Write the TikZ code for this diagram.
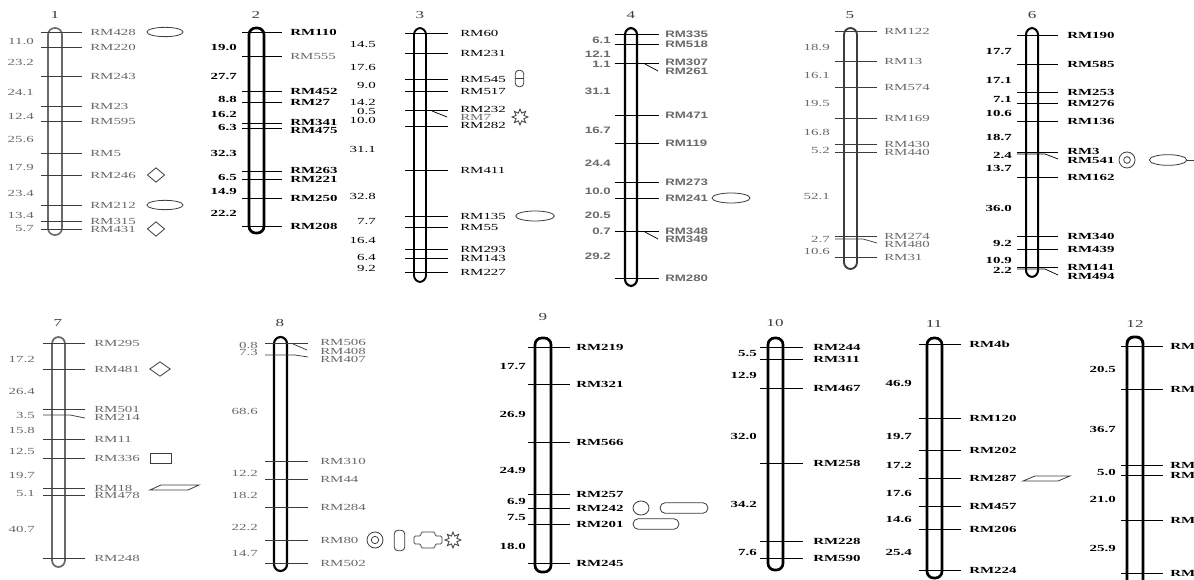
\documentclass[tikz,border=0pt]{standalone}
\usepackage{fontspec}
\setmainfont{Liberation Serif}[FakeStretch=1.6]
\newfontfamily\mapsans{Liberation Sans}[FakeStretch=1.42]
\usetikzlibrary{shapes.geometric}
\definecolor{gt}{RGB}{105,105,105}
\definecolor{dk}{RGB}{60,60,60}
\tikzset{
    rod/.style={draw=#1,line width=1.6pt,fill=white,rounded corners=5pt},
    tk/.style={draw=#1,line width=0.55pt},
    tk/.default=black,
    mk/.style={anchor=west,inner sep=0pt},
    dis/.style={anchor=east,inner sep=0pt},
    chr/.style={inner sep=0pt,font=\fontsize{8}{9}\selectfont,text=dk},
    sym/.style={draw=dk,line width=0.6pt,inner sep=0pt},
    grey/.style={text=gt},
    heavy/.style={font=\bfseries},
    sans/.style={font=\mapsans\bfseries,text=gt},
}
\begin{document}
\fontsize{7}{8}\selectfont
\begin{tikzpicture}[x=0.75pt,y=-0.75pt]
\useasboundingbox (0,0) rectangle (1194,580);
\clip (0,0) rectangle (1194,580);
\fill[white] (0,0) rectangle (1194,580);

% chromosome 1
\begin{scope}[grey]
\draw[rod=gt,line width=1.2pt] (48,28) rectangle (62,235);
\node[chr] (c1) at (55,15) {1};
\draw[tk=dk] (41,32) -- (82,32);   \node[mk] (rm428) at (90,32) {RM428};
\draw[tk=dk] (41,47) -- (82,47);   \node[mk] (rm220) at (90,47) {RM220};
\draw[tk=dk] (41,76) -- (82,76);   \node[mk] (rm243) at (90,76) {RM243};
\draw[tk=dk] (41,106) -- (82,106); \node[mk] (rm23) at (90,106) {RM23};
\draw[tk=dk] (41,121) -- (82,121); \node[mk] (rm595) at (90,121) {RM595};
\draw[tk=dk] (41,153) -- (82,153); \node[mk] (rm5) at (90,153) {RM5};
\draw[tk=dk] (41,175) -- (82,175); \node[mk] (rm246) at (90,175) {RM246};
\draw[tk=dk] (41,205) -- (82,205); \node[mk] (rm212) at (90,205) {RM212};
\draw[tk=dk] (41,221) -- (82,221); \node[mk] (rm315) at (90,221) {RM315};
\draw[tk=dk] (41,229) -- (82,229); \node[mk] (rm431) at (90,229) {RM431};
\node[dis] (d1a) at (34,41) {11.0};
\node[dis] (d1b) at (34,62) {23.2};
\node[dis] (d1c) at (34,92) {24.1};
\node[dis] (d1d) at (34,116) {12.4};
\node[dis] (d1e) at (34,139) {25.6};
\node[dis] (d1f) at (34,167) {17.9};
\node[dis] (d1g) at (34,193) {23.4};
\node[dis] (d1h) at (34,215) {13.4};
\node[dis] (d1i) at (34,229) {5.7};
\end{scope}
\node[sym,ellipse,minimum width=27pt,minimum height=7pt] (e1a) at (165,32) {};
\node[sym,diamond,minimum width=13pt,minimum height=11pt] (q1a) at (156,175) {};
\node[sym,ellipse,minimum width=27pt,minimum height=7pt] (e1b) at (165,205) {};
\node[sym,diamond,minimum width=13pt,minimum height=11pt] (q1b) at (156,229) {};

% chromosome 2
\begin{scope}[heavy]
\draw[rod=black,line width=2pt] (249,28) rectangle (264,233);
\node[chr] (c2) at (256,15) {2};
\draw[tk] (242,32) -- (282,32);   \node[mk] (rm110) at (290,32) {RM110};
\draw[tk] (242,56) -- (282,56);   \node[mk,text=gt,font=\mdseries] (rm555) at (290,56) {RM555};
\draw[tk] (242,91) -- (282,91);   \node[mk] (rm452) at (290,91) {RM452};
\draw[tk] (242,102) -- (282,102); \node[mk] (rm27) at (290,102) {RM27};
\draw[tk] (242,123) -- (282,123); \node[mk] (rm341) at (290,122) {RM341};
\draw[tk] (242,128) -- (282,128); \node[mk] (rm475) at (290,130) {RM475};
\draw[tk] (242,171) -- (282,171); \node[mk] (rm263) at (290,170) {RM263};
\draw[tk] (242,179) -- (282,179); \node[mk] (rm221) at (290,179) {RM221};
\draw[tk] (242,198) -- (282,198); \node[mk] (rm250) at (290,198) {RM250};
\draw[tk] (242,226) -- (282,226); \node[mk] (rm208) at (290,226) {RM208};
\node[dis] (d2a) at (237,47) {19.0};
\node[dis] (d2b) at (237,76) {27.7};
\node[dis] (d2c) at (237,99) {8.8};
\node[dis] (d2d) at (237,114) {16.2};
\node[dis] (d2e) at (237,127) {6.3};
\node[dis] (d2f) at (237,153) {32.3};
\node[dis] (d2g) at (237,177) {6.5};
\node[dis] (d2h) at (237,191) {14.9};
\node[dis] (d2i) at (237,213) {22.2};
\end{scope}

% chromosome 3
\draw[rod=black,line width=1.4pt] (414,28) rectangle (426,282);
\node[chr] (c3) at (420,15) {3};
\draw[tk] (405,33) -- (448,33);   \node[mk] (rm60) at (460,33) {RM60};
\draw[tk] (405,53) -- (448,53);   \node[mk] (rm231) at (460,53) {RM231};
\draw[tk] (405,79) -- (448,79);   \node[mk] (rm545) at (460,79) {RM545};
\draw[tk] (405,91) -- (448,91);   \node[mk] (rm517) at (460,91) {RM517};
\draw[tk] (405,110) -- (448,110); \node[mk] (rm232) at (460,109) {RM232};
\draw[tk] (432,111) -- (447,117); \node[mk,text=gt] (rm7) at (460,117) {RM7};
\draw[tk] (405,126) -- (448,126); \node[mk] (rm282) at (460,125.5) {RM282};
\draw[tk] (405,170) -- (448,170); \node[mk] (rm411) at (460,170) {RM411};
\draw[tk] (405,216) -- (448,216); \node[mk] (rm135) at (460,216) {RM135};
\draw[tk] (405,227) -- (448,227); \node[mk] (rm55) at (460,227) {RM55};
\draw[tk] (405,249) -- (448,249); \node[mk] (rm293) at (460,249) {RM293};
\draw[tk] (405,258) -- (448,258); \node[mk] (rm143) at (460,258) {RM143};
\draw[tk] (405,272) -- (448,272); \node[mk] (rm227) at (460,272) {RM227};
\node[dis] (d3a) at (376,44) {14.5};
\node[dis] (d3b) at (376,67) {17.6};
\node[dis] (d3c) at (376,85) {9.0};
\node[dis] (d3d) at (376,102) {14.2};
\node[dis] (d3e) at (376,111.5) {0.5};
\node[dis] (d3f) at (376,120.5) {10.0};
\node[dis] (d3g) at (376,149) {31.1};
\node[dis] (d3h) at (376,196) {32.8};
\node[dis] (d3i) at (376,222) {7.7};
\node[dis] (d3j) at (376,240) {16.4};
\node[dis] (d3k) at (376,257) {6.4};
\node[dis] (d3l) at (376,268) {9.2};
\node[sym,rounded corners=3pt,minimum width=6.5pt,minimum height=12.5pt] (k3) at (519.5,78.5) {};
\draw[sym] (k3.west) -- (k3.east);
\node[sym,star,star points=8,star point ratio=1.9,minimum size=12pt] (s3) at (520,117) {};
\node[sym,ellipse,minimum width=29pt,minimum height=7.5pt] (e3) at (535,216) {};

% chromosome 4
\begin{scope}[sans]
\draw[rod=black,line width=1.6pt] (625,28) rectangle (637,286);
\node[chr] (c4) at (631,15) {4};
\draw[tk] (615,34) -- (659,34);   \node[mk] (rm335) at (665,34) {RM335};
\draw[tk] (615,44) -- (659,44);   \node[mk] (rm518) at (665,44) {RM518};
\draw[tk] (615,63) -- (659,63);   \node[mk] (rm307) at (665,62) {RM307};
\draw[tk] (645,64) -- (658,71);   \node[mk] (rm261) at (665,71) {RM261};
\draw[tk] (615,115) -- (659,115); \node[mk] (rm471) at (665,115) {RM471};
\draw[tk] (615,143) -- (659,143); \node[mk] (rm119) at (665,143) {RM119};
\draw[tk] (615,182) -- (659,182); \node[mk] (rm273) at (665,182) {RM273};
\draw[tk] (615,198) -- (659,198); \node[mk] (rm241) at (665,198) {RM241};
\draw[tk] (615,231) -- (659,231); \node[mk] (rm348) at (665,231) {RM348};
\draw[tk] (645,232) -- (658,239); \node[mk] (rm349) at (665,239) {RM349};
\draw[tk] (615,278) -- (659,278); \node[mk] (rm280) at (665,278) {RM280};
\node[dis] (d4a) at (611,40) {6.1};
\node[dis] (d4b) at (611,54) {12.1};
\node[dis] (d4c) at (611,64) {1.1};
\node[dis] (d4d) at (611,91) {31.1};
\node[dis] (d4e) at (611,130) {16.7};
\node[dis] (d4f) at (611,163) {24.4};
\node[dis] (d4g) at (611,191) {10.0};
\node[dis] (d4h) at (611,215) {20.5};
\node[dis] (d4i) at (611,231) {0.7};
\node[dis] (d4j) at (611,256) {29.2};
\end{scope}
\node[sym,ellipse,minimum width=28.5pt,minimum height=7.5pt] (e4) at (731,198) {};

% chromosome 5
\begin{scope}[grey]
\draw[rod=dk,line width=1.4pt] (844,28) rectangle (857,269);
\node[chr] (c5) at (850,15) {5};
\draw[tk=dk] (835,31) -- (877,31);   \node[mk] (rm122) at (884,31) {RM122};
\draw[tk=dk] (835,61) -- (877,61);   \node[mk] (rm13) at (884,61) {RM13};
\draw[tk=dk] (835,87) -- (877,87);   \node[mk] (rm574) at (884,87) {RM574};
\draw[tk=dk] (835,118) -- (877,118); \node[mk] (rm169) at (884,118) {RM169};
\draw[tk=dk] (835,144) -- (877,144); \node[mk] (rm430) at (884,144) {RM430};
\draw[tk=dk] (835,152) -- (877,152); \node[mk] (rm440) at (884,152) {RM440};
\draw[tk=dk] (835,236) -- (877,236); \node[mk] (rm274) at (884,236) {RM274};
\draw[tk=dk] (835,239) -- (863,239) -- (877,243); \node[mk] (rm480) at (884,244) {RM480};
\draw[tk=dk] (835,257) -- (877,257); \node[mk] (rm31) at (884,257) {RM31};
\node[dis] (d5a) at (830,47) {18.9};
\node[dis] (d5b) at (830,75) {16.1};
\node[dis] (d5c) at (830,103) {19.5};
\node[dis] (d5d) at (830,132) {16.8};
\node[dis] (d5e) at (830,150) {5.2};
\node[dis] (d5f) at (830,196) {52.1};
\node[dis] (d5g) at (830,239) {2.7};
\node[dis] (d5h) at (830,251) {10.6};
\end{scope}

% chromosome 6
\begin{scope}[heavy]
\draw[rod=black,line width=1.5pt] (1026,28) rectangle (1038,277);
\node[chr] (c6) at (1032,15) {6};
\draw[tk] (1017,35) -- (1058,35);   \node[mk] (rm190) at (1067,35) {RM190};
\draw[tk] (1017,64) -- (1058,64);   \node[mk] (rm585) at (1067,64) {RM585};
\draw[tk] (1017,92) -- (1058,92);   \node[mk] (rm253) at (1067,92) {RM253};
\draw[tk] (1017,103) -- (1058,103); \node[mk] (rm276) at (1067,103) {RM276};
\draw[tk] (1017,121) -- (1058,121); \node[mk] (rm136) at (1067,121) {RM136};
\draw[tk] (1017,152) -- (1058,152); \node[mk] (rm3) at (1067,151) {RM3};
\draw[tk] (1017,154) -- (1045,154) -- (1058,159); \node[mk] (rm541) at (1067,160) {RM541};
\draw[tk] (1017,177) -- (1058,177); \node[mk] (rm162) at (1067,177) {RM162};
\draw[tk] (1017,236) -- (1058,236); \node[mk] (rm340) at (1067,236) {RM340};
\draw[tk] (1017,249) -- (1058,249); \node[mk] (rm439) at (1067,249) {RM439};
\draw[tk] (1017,267) -- (1058,267); \node[mk] (rm141) at (1067,267) {RM141};
\draw[tk] (1017,269) -- (1045,269) -- (1058,275); \node[mk] (rm494) at (1067,276) {RM494};
\node[dis] (d6a) at (1012,51) {17.7};
\node[dis] (d6b) at (1012,80) {17.1};
\node[dis] (d6c) at (1012,99) {7.1};
\node[dis] (d6d) at (1012,113) {10.6};
\node[dis] (d6e) at (1012,137) {18.7};
\node[dis] (d6f) at (1012,155) {2.4};
\node[dis] (d6g) at (1012,168) {13.7};
\node[dis] (d6h) at (1012,208) {36.0};
\node[dis] (d6i) at (1012,243) {9.2};
\node[dis] (d6j) at (1012,260) {10.9};
\node[dis] (d6k) at (1012,270) {2.2};
\end{scope}
\node[sym,circle,minimum size=12pt] (o6) at (1127,160) {};
\node[sym,circle,minimum size=5pt] (o6i) at (o6) {};
\node[sym,ellipse,minimum width=28pt,minimum height=8pt] (e6) at (1168,160) {};
\draw[sym] (e6.east) -- +(8,0);

% chromosome 7
\begin{scope}[grey]
\draw[rod=gt,line width=1.3pt] (52,337) rectangle (65,567);
\node[chr] (c7) at (58,323) {7};
\draw[tk=dk] (43,343) -- (85,343); \node[mk] (rm295) at (94,343) {RM295};
\draw[tk=dk] (43,369) -- (85,369); \node[mk] (rm481) at (94,369) {RM481};
\draw[tk=dk] (43,409) -- (85,409); \node[mk] (rm501) at (94,409) {RM501};
\draw[tk=dk] (43,415) -- (70,415) -- (85,418); \node[mk] (rm214) at (94,417) {RM214};
\draw[tk=dk] (43,439) -- (85,439); \node[mk] (rm11) at (94,439) {RM11};
\draw[tk=dk] (43,458) -- (85,458); \node[mk] (rm336) at (94,458) {RM336};
\draw[tk=dk] (43,488) -- (85,488); \node[mk] (rm18) at (94,488) {RM18};
\draw[tk=dk] (43,495) -- (85,495); \node[mk] (rm478) at (94,495) {RM478};
\draw[tk=dk] (43,558) -- (85,558); \node[mk] (rm248) at (94,558) {RM248};
\node[dis] (d7a) at (35,359) {17.2};
\node[dis] (d7b) at (35,391) {26.4};
\node[dis] (d7c) at (35,415) {3.5};
\node[dis] (d7d) at (35,430) {15.8};
\node[dis] (d7e) at (35,451) {12.5};
\node[dis] (d7f) at (35,475) {19.7};
\node[dis] (d7g) at (35,493) {5.1};
\node[dis] (d7h) at (35,529) {40.7};
\end{scope}
\node[sym,diamond,minimum width=15.5pt,minimum height=11pt] (q7) at (160,369) {};
\node[sym,minimum width=16pt,minimum height=7.5pt] (b7) at (161,458) {};
\draw[sym] (150,490) -- (161,485) -- (199,485) -- (188,490) -- cycle;

% chromosome 8
\begin{scope}[grey]
\draw[rod=black,line width=1.6pt] (274,337) rectangle (287,571);
\node[chr] (c8) at (280,323) {8};
\draw[tk=dk] (265,343) -- (308,343); \node[mk] (rm506) at (320,342) {RM506};
\draw[tk=dk] (293,344) -- (307,350); \node[mk] (rm408) at (320,351) {RM408};
\draw[tk=dk] (265,355) -- (295,355) -- (308,357); \node[mk] (rm407) at (320,359) {RM407};
\draw[tk=dk] (265,461) -- (308,461); \node[mk] (rm310) at (320,461) {RM310};
\draw[tk=dk] (265,479) -- (308,479); \node[mk] (rm44) at (320,479) {RM44};
\draw[tk=dk] (265,507) -- (308,507); \node[mk] (rm284) at (320,507) {RM284};
\draw[tk=dk] (265,540) -- (308,540); \node[mk] (rm80) at (320,540) {RM80};
\draw[tk=dk] (265,563) -- (308,563); \node[mk] (rm502) at (320,563) {RM502};
\node[dis] (d8a) at (258,345) {0.8};
\node[dis] (d8b) at (258,352) {7.3};
\node[dis] (d8c) at (258,411) {68.6};
\node[dis] (d8d) at (258,473) {12.2};
\node[dis] (d8e) at (258,495) {18.2};
\node[dis] (d8f) at (258,527) {22.2};
\node[dis] (d8g) at (258,553) {14.7};
\end{scope}
\node[sym,circle,minimum size=12pt] (o8) at (375,540) {};
\node[sym,circle,minimum size=5.5pt] (o8i) at (o8) {};
\node[sym,rounded corners=3pt,minimum width=8pt,minimum height=15.5pt] (k8) at (399.5,540.5) {};
\draw[sym,rounded corners=1pt] (414,536) -- (421,536) -- (421,532) -- (435,532) -- (435,536) -- (442,536)
  -- (442,544) -- (435,544) -- (435,548) -- (421,548) -- (421,544) -- (414,544) -- cycle;
\node[sym,star,star points=8,star point ratio=1.9,minimum size=12pt] (s8) at (453,540) {};

% chromosome 9
\begin{scope}[heavy]
\draw[rod=black,line width=2pt] (535,338) rectangle (551,572);
\node[chr] (c9) at (543,317) {9};
\draw[tk] (528,347) -- (570,347); \node[mk] (rm219) at (576,347) {RM219};
\draw[tk] (528,384) -- (570,384); \node[mk] (rm321) at (576,384) {RM321};
\draw[tk] (528,442) -- (570,442); \node[mk] (rm566) at (576,442) {RM566};
\draw[tk] (528,494) -- (570,494); \node[mk] (rm257) at (576,494) {RM257};
\draw[tk] (528,508) -- (570,508); \node[mk] (rm242) at (576,508) {RM242};
\draw[tk] (528,524) -- (570,524); \node[mk] (rm201) at (576,524) {RM201};
\draw[tk] (528,563) -- (570,563); \node[mk] (rm245) at (576,563) {RM245};
\node[dis] (d9a) at (526,366) {17.7};
\node[dis] (d9b) at (526,414) {26.9};
\node[dis] (d9c) at (526,470) {24.9};
\node[dis] (d9d) at (526,501) {6.9};
\node[dis] (d9e) at (526,518) {7.5};
\node[dis] (d9f) at (526,546) {18.0};
\end{scope}
\node[sym,ellipse,minimum width=12pt,minimum height=10.5pt] (o9) at (641,508) {};
\node[sym,rounded corners=4pt,minimum width=36pt,minimum height=8pt] (r9a) at (684,508) {};
\node[sym,rounded corners=4pt,minimum width=34.5pt,minimum height=8pt] (r9b) at (656,524) {};

% chromosome 10
\begin{scope}[heavy]
\draw[rod=black,line width=2pt] (768,338) rectangle (783,570);
\node[chr] (c10) at (775,323) {10};
\draw[tk] (760,347) -- (803,347); \node[mk] (rm244) at (813,347) {RM244};
\draw[tk] (760,359) -- (803,359); \node[mk] (rm311) at (813,359) {RM311};
\draw[tk] (760,388) -- (803,388); \node[mk] (rm467) at (813,388) {RM467};
\draw[tk] (760,463) -- (803,463); \node[mk] (rm258) at (813,463) {RM258};
\draw[tk] (760,541) -- (803,541); \node[mk] (rm228) at (813,541) {RM228};
\draw[tk] (760,558) -- (803,558); \node[mk] (rm590) at (813,558) {RM590};
\node[dis] (d10a) at (757,354) {5.5};
\node[dis] (d10b) at (757,375) {12.9};
\node[dis] (d10c) at (757,436) {32.0};
\node[dis] (d10d) at (757,504) {34.2};
\node[dis] (d10e) at (757,552) {7.6};
\end{scope}

% chromosome 11
\begin{scope}[heavy]
\draw[rod=black,line width=2pt] (927,338) rectangle (942,578);
\node[chr] (c11) at (934,324) {11};
\draw[tk] (919,344) -- (961,344); \node[mk] (rm4b) at (969,344) {RM4b};
\draw[tk] (919,418) -- (961,418); \node[mk] (rm120) at (969,418) {RM120};
\draw[tk] (919,450) -- (961,450); \node[mk] (rm202) at (969,450) {RM202};
\draw[tk] (919,478) -- (961,478); \node[mk] (rm287) at (969,478) {RM287};
\draw[tk] (919,506) -- (961,506); \node[mk] (rm457) at (969,506) {RM457};
\draw[tk] (919,529) -- (961,529); \node[mk] (rm206) at (969,529) {RM206};
\draw[tk] (919,570) -- (961,570); \node[mk] (rm224) at (969,570) {RM224};
\node[dis] (d11a) at (912,383) {46.9};
\node[dis] (d11b) at (912,436) {19.7};
\node[dis] (d11c) at (912,465) {17.2};
\node[dis] (d11d) at (912,493) {17.6};
\node[dis] (d11e) at (912,519) {14.6};
\node[dis] (d11f) at (912,552) {25.4};
\end{scope}
\draw[sym] (1023,481) -- (1035,476) -- (1070,476) -- (1058,481) -- cycle;

% chromosome 12
\begin{scope}[heavy]
\draw[rod=black,line width=2.2pt] (1127,337) rectangle (1143,600);
\node[chr] (c12) at (1135,324) {12};
\draw[tk] (1121,346) -- (1163,346); \node[mk] (r12a) at (1170,346) {RM};
\draw[tk] (1121,389) -- (1163,389); \node[mk] (r12b) at (1170,389) {RM};
\draw[tk] (1121,465) -- (1163,465); \node[mk] (r12c) at (1170,465) {RM};
\draw[tk] (1121,475) -- (1163,475); \node[mk] (r12d) at (1170,475) {RM};
\draw[tk] (1121,520) -- (1163,520); \node[mk] (r12e) at (1170,520) {RM};
\draw[tk] (1121,573) -- (1163,573); \node[mk] (r12f) at (1170,573) {RM};
\node[dis] (d12a) at (1116,369) {20.5};
\node[dis] (d12b) at (1116,429) {36.7};
\node[dis] (d12c) at (1116,472) {5.0};
\node[dis] (d12d) at (1116,499) {21.0};
\node[dis] (d12e) at (1116,548) {25.9};
\end{scope}
\end{tikzpicture}
\end{document}
